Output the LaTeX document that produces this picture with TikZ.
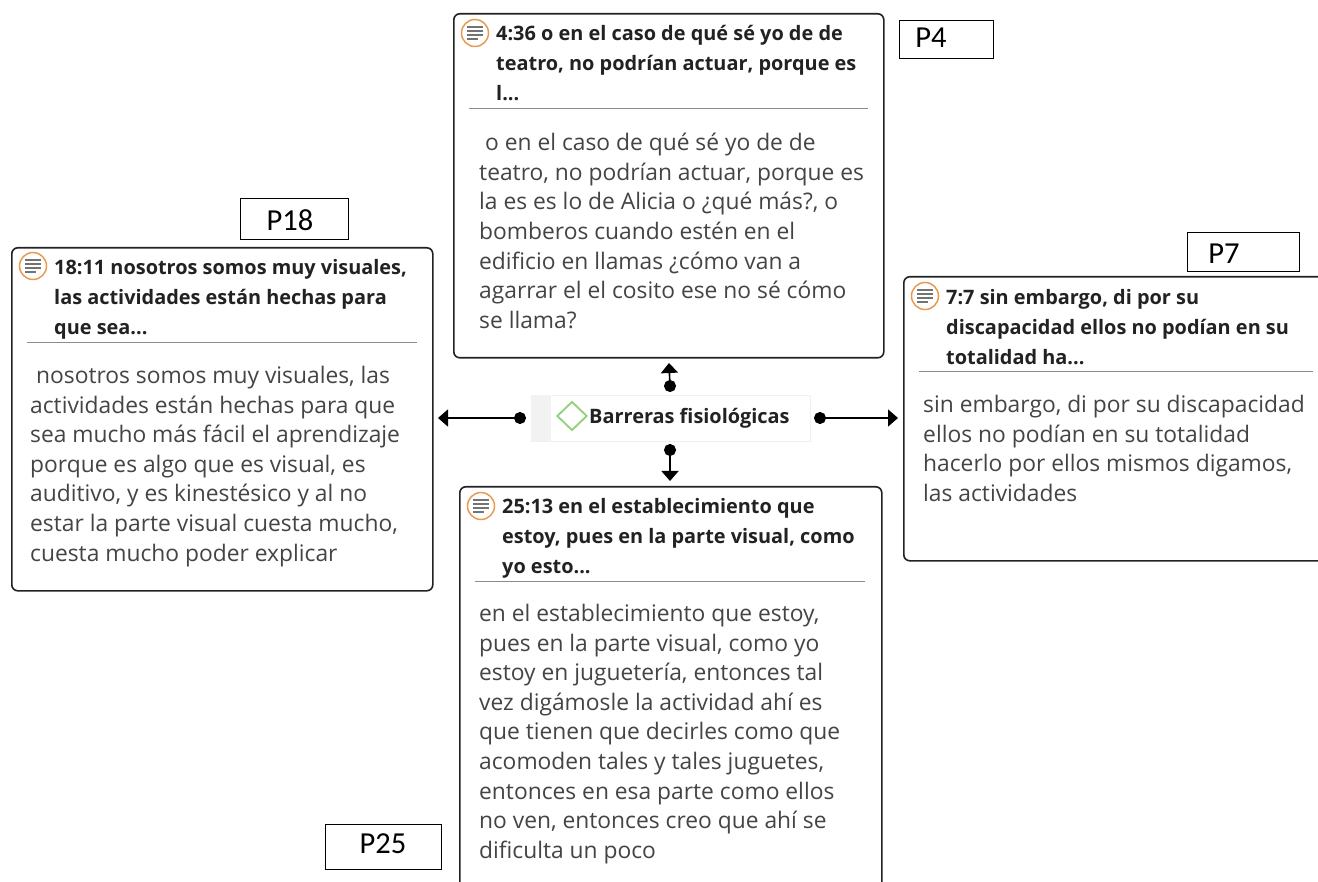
\documentclass[tikz,border=0pt]{standalone}
\usepackage{fontspec}
\setmainfont{Open Sans}
\newfontfamily\tagfont{Carlito}
\usetikzlibrary{arrows.meta,shapes.geometric}
\definecolor{ink}{HTML}{222222}
\definecolor{bodyink}{HTML}{444444}
\definecolor{memoor}{HTML}{E89A50}
\definecolor{diag}{HTML}{90D078}
\tikzset{
  x=1pt,y=-1pt,
  card/.style={draw=ink,line width=1.6pt,rounded corners=6pt,fill=white,anchor=north west,inner sep=0pt},
  head/.style={anchor=north west,inner sep=0pt,align=left,text=ink,font=\fontsize{19.9}{30}\selectfont\bfseries},
  bodytxt/.style={anchor=north west,inner sep=0pt,align=left,text=bodyink,font=\fontsize{22.8}{29.6}\selectfont},
  tag/.style={draw=black,line width=1.1pt,fill=white,anchor=north west,inner sep=0pt},
  tagtxt/.style={anchor=center,inner sep=0pt,text=black,font=\tagfont\fontsize{30.5}{32}\selectfont},
  rulel/.style={draw=black!45,line width=1pt},
  conn/.style={draw=black,line width=1.6pt,{Circle[length=12pt,width=12pt]}-{Triangle[length=10pt,width=17pt]},shorten <=-6pt},
  memo/.style={circle,draw=memoor,line width=1.5pt,fill=white,minimum size=27pt,inner sep=0pt},
  memol/.style={draw=black!55,line width=1.2pt}
}
\newcommand{\memoicon}[2]{%
  \node[memo] (#1) at (#2) {};
  \draw[memol] ([xshift=-8pt,yshift=6pt]#1.center) -- ++(16,0);
  \draw[memol] ([xshift=-8pt,yshift=2pt]#1.center) -- ++(16,0);
  \draw[memol] ([xshift=-8pt,yshift=-2pt]#1.center) -- ++(16,0);
  \draw[memol] ([xshift=-8pt,yshift=-6pt]#1.center) -- ++(11,0);
}
\begin{document}
\begin{tikzpicture}
\useasboundingbox (0,0) rectangle (1318,882);
\clip (0,0) rectangle (1318,882);
% cards
\node[card,minimum width=430pt,minimum height=344pt] (c4) at (453,13) {};
\node[card,minimum width=421pt,minimum height=343pt] (c18) at (11,247) {};
\node[card,minimum width=430pt,minimum height=284pt] (c7) at (903,276) {};
\node[card,minimum width=422pt,minimum height=420pt] (c25) at (459,486) {};
% card 4
\memoicon{m4}{475,33}
\node[head] (h4) at (496,25) {4:36 o en el caso de qué sé yo de de\\teatro, no podrían actuar, porque es\\l...};
\draw[rulel] (469,109) -- (868,109);
\node[bodytxt] (b4) at (479,133) {\ o en el caso de qué sé yo de de\\teatro, no podrían actuar, porque es\\la es es lo de Alicia o ¿qué más?, o\\bomberos cuando estén en el\\edificio en llamas ¿cómo van a\\agarrar el el cosito ese no sé cómo\\se llama?};
% card 18
\memoicon{m18}{33,266}
\node[head] (h18) at (54,259) {18:11 nosotros somos muy visuales,\\las actividades están hechas para\\que sea...};
\draw[rulel] (27,343) -- (417,343);
\node[bodytxt] (b18) at (30,366) {\ nosotros somos muy visuales, las\\actividades están hechas para que\\sea mucho más fácil el aprendizaje\\porque es algo que es visual, es\\auditivo, y es kinestésico y al no\\estar la parte visual cuesta mucho,\\cuesta mucho poder explicar};
% card 7
\memoicon{m7}{925,296}
\node[head] (h7) at (946,289) {7:7 sin embargo, di por su\\discapacidad ellos no podían en su\\totalidad ha...};
\draw[rulel] (919,372) -- (1313,372);
\node[bodytxt] (b7) at (923,395) {sin embargo, di por su discapacidad\\ellos no podían en su totalidad\\hacerlo por ellos mismos digamos,\\las actividades};
% card 25
\memoicon{m25}{481,506}
\node[head] (h25) at (502,498) {25:13 en el establecimiento que\\estoy, pues en la parte visual, como\\yo esto...};
\draw[rulel] (475,581) -- (865,581);
\node[bodytxt] (b25) at (479,604) {en el establecimiento que estoy,\\pues en la parte visual, como yo\\estoy en juguetería, entonces tal\\vez digámosle la actividad ahí es\\que tienen que decirles como que\\acomoden tales y tales juguetes,\\entonces en esa parte como ellos\\no ven, entonces creo que ahí se\\dificulta un poco};
% central code
\node[draw=black!6,line width=1pt,fill=white,anchor=north west,minimum width=279pt,minimum height=46pt,inner sep=0pt] (code) at (531,395) {};
\fill[black!5] (531,395) rectangle (551,441);
\node[diamond,draw=diag,line width=1.8pt,fill=white,minimum width=30pt,minimum height=29pt,inner sep=0pt] (dia) at (572,416) {};
\node[anchor=base west,inner sep=0pt,text=ink,font=\fontsize{19.9}{24}\selectfont\bfseries] (lbl) at (589,424) {Barreras fisiológicas};
% tags
\node[tag,minimum width=94pt,minimum height=38pt] (p4) at (899,20) {};
\node[tagtxt] (p4t) at (931,38) {P4};
\node[tag,minimum width=108pt,minimum height=41pt] (p18) at (240,198) {};
\node[tagtxt] (p18t) at (290,220) {P18};
\node[tag,minimum width=112pt,minimum height=39pt] (p7) at (1187,232) {};
\node[tagtxt] (p7t) at (1224,254) {P7};
\node[tag,minimum width=116pt,minimum height=45pt] (p25) at (325,824) {};
\node[tagtxt] (p25t) at (383,844) {P25};
% connectors
\coordinate (dl) at (520,418);
\coordinate (dr) at (820,418);
\coordinate (du) at (670,386);
\coordinate (dd) at (670,450);
\coordinate (tl) at (438,418);
\coordinate (tr) at (898,418);
\coordinate (tu) at (669,363);
\coordinate (td) at (670,481);
\draw[conn] (dl) -- (tl);
\draw[conn] (dr) -- (tr);
\draw[conn] (du) -- (tu);
\draw[conn] (dd) -- (td);
\end{tikzpicture}
\end{document}
